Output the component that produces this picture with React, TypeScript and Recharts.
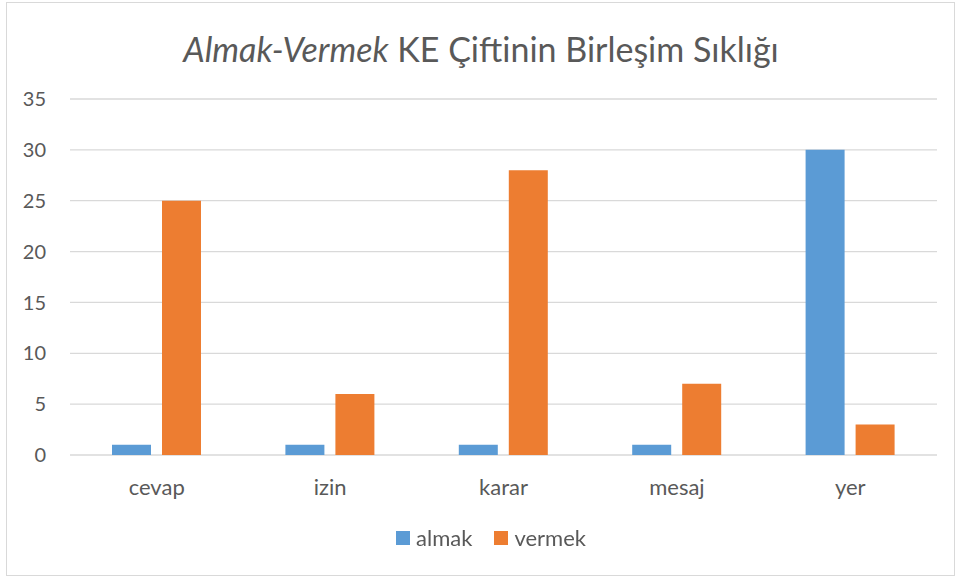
import React from "react"
import { BarChart, Bar, XAxis, YAxis, CartesianGrid, Legend } from "recharts"

const categories = ["cevap", "izin", "karar", "mesaj", "yer"]
const almak = [1, 1, 1, 1, 30]
const vermek = [25, 6, 28, 7, 3]
const yTicks = [0, 5, 10, 15, 20, 25, 30, 35]

const data = categories.map((c, i) => ({ name: c, almak: almak[i], vermek: vermek[i] }))

const FONT = "Lato, 'Open Sans', sans-serif"
const TEXT = "#595959"

function LegendBox({ payload }: any) {
  return (
    <div style={{ display: "flex", justifyContent: "center", fontFamily: FONT, fontSize: 22, lineHeight: "24px", color: TEXT }}>
      {(payload || []).map((p: any, i: number) => (
        <div key={p.value} style={{ display: "flex", alignItems: "center", marginRight: i === 0 ? 22 : 0 }}>
          <span style={{ display: "inline-block", width: 14, height: 14, background: p.color, marginRight: 6 }} />
          <span>{p.value}</span>
        </div>
      ))}
    </div>
  )
}

export default function App() {
  return (
    <div style={{ position: "fixed", left: 0, top: 0, width: 962, height: 580, background: "#fff" }}>
      <div
        style={{
          position: "absolute",
          left: 6,
          top: 2,
          width: 947,
          height: 572,
          border: "1.5px solid #d9d9d9",
        }}
      />
      <div
        style={{
          position: "absolute",
          top: 28,
          left: 0,
          width: 962,
          textAlign: "center",
          fontFamily: FONT,
          fontSize: 34,
          color: TEXT,
        }}
      >
        <i>Almak-Vermek</i> KE Çiftinin Birleşim Sıklığı
      </div>
      <BarChart
        width={962}
        height={580}
        data={data}
        margin={{ top: 99, right: 25, left: 0, bottom: 61 }}
        barGap={11}
        style={{ position: "absolute", left: 0, top: 0 }}
      >
        <CartesianGrid vertical={false} stroke="#d9d9d9" strokeWidth={1.3} />
        <XAxis
          dataKey="name"
          axisLine={false}
          tickLine={false}
          height={40}
          tick={{ fill: TEXT, fontSize: 22, fontFamily: FONT }}
          tickMargin={18}
        />
        <YAxis
          width={70}
          domain={[0, 35]}
          ticks={yTicks}
          axisLine={false}
          tickLine={false}
          tickMargin={18}
          tick={{ fill: TEXT, fontSize: 20, fontFamily: FONT }}
        />
        <Legend verticalAlign="bottom" wrapperStyle={{ top: 526, left: 10, width: 962 }} content={LegendBox} />
        <Bar dataKey="almak" name="almak" fill="#5B9BD5" barSize={39} isAnimationActive={false} />
        <Bar dataKey="vermek" name="vermek" fill="#ED7D31" barSize={39} isAnimationActive={false} />
      </BarChart>
    </div>
  )
}
